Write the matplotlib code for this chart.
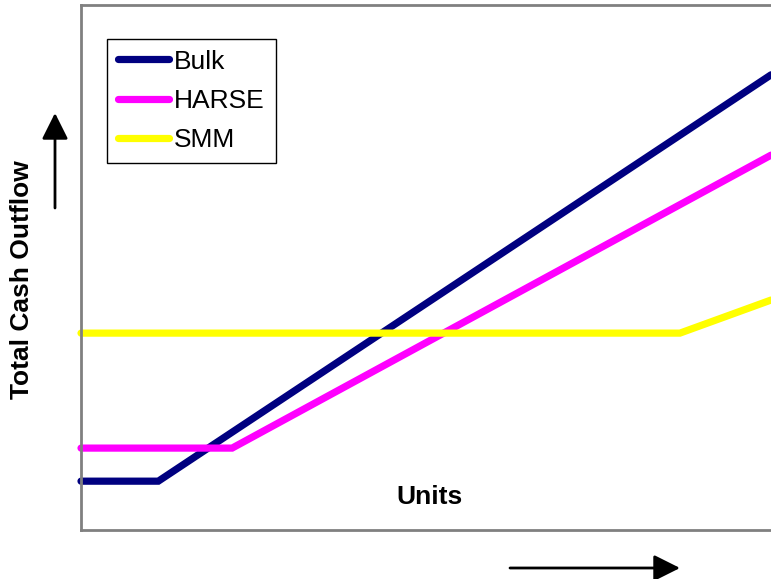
import matplotlib
matplotlib.use("Agg")
import matplotlib.pyplot as plt

plt.rcParams['font.family'] = ['Liberation Sans', 'DejaVu Sans']

# Data (arbitrary units)
series_names = ["Bulk", "HARSE", "SMM"]
bulk_x = [0, 1.12, 10]
bulk_y = [9.3, 9.3, 86.7]
harse_x = [0, 2.19, 10]
harse_y = [15.6, 15.6, 71.4]
smm_x = [0, 8.68, 10]
smm_y = [37.5, 37.5, 43.8]
colors = ["#000080", "#FF00FF", "#FFFF00"]

W, H = 771, 579
fig = plt.figure(figsize=(W / 100, H / 100), dpi=100)
left_px, right_px, top_px, bottom_px = 81, 800, 5, 530
ax = fig.add_axes([left_px / W, (H - bottom_px) / H,
                   (right_px - left_px) / W, (bottom_px - top_px) / H])

xs = [bulk_x, harse_x, smm_x]
ys = [bulk_y, harse_y, smm_y]
for x, y, c, n in zip(xs, ys, colors, series_names):
    ax.plot(x, y, color=c, lw=5.2, solid_capstyle='round',
            solid_joinstyle='miter', label=n, clip_on=False)

ax.set_xlim(0, 10 * (right_px - left_px) / (771 - left_px))
ax.set_ylim(0, 100)
ax.set_xticks([])
ax.set_yticks([])
for s in ax.spines.values():
    s.set_color('#808080')
    s.set_linewidth(2)

leg = ax.legend(loc='upper left', bbox_to_anchor=((107 - left_px) / (right_px - left_px),
                                                   1 - (39 - top_px) / (bottom_px - top_px)),
                fontsize=19, frameon=True, fancybox=False, framealpha=1,
                edgecolor='black', handlelength=1.95, handletextpad=0.2,
                labelspacing=0.58, borderpad=0.4, borderaxespad=0)
leg.get_frame().set_linewidth(1)

ax.text((429 - left_px) / (right_px - left_px), 1 - (497 - top_px) / (bottom_px - top_px),
        "Units", transform=ax.transAxes, ha='center', va='center',
        fontsize=19, fontweight='bold')

fig.text(22 / W, 1 - 280 / H, "Total Cash Outflow", rotation=90,
         ha='center', va='center', fontsize=19, fontweight='bold')

arrow_style = dict(arrowstyle='-|>,head_length=0.8,head_width=0.4',
                   mutation_scale=20, lw=2, color='black',
                   shrinkA=0, shrinkB=0)
fig.add_artist(plt.Annotation("", xy=(55, H - 113), xytext=(55, H - 208),
                              xycoords='figure pixels', textcoords='figure pixels',
                              arrowprops=arrow_style))
fig.add_artist(plt.Annotation("", xy=(680, H - 568), xytext=(510, H - 568),
                              xycoords='figure pixels', textcoords='figure pixels',
                              arrowprops=arrow_style))

fig.savefig("out.png", dpi=100)
